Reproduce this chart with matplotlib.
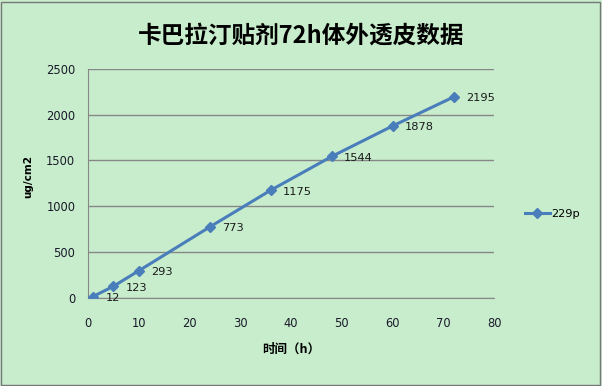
import matplotlib
matplotlib.use("Agg")
import matplotlib.pyplot as plt
from matplotlib.patches import Rectangle

plt.rcParams['font.family'] = ['DejaVu Sans', 'Noto Sans CJK SC']

# 时间 (h) und kumulierte Permeation (ug/cm2)
zeit = [1, 5, 10, 24, 36, 48, 60, 72]
werte = [12, 123, 293, 773, 1175, 1544, 1878, 2195]
serie = "229p"
titel = "卡巴拉汀贴剂72h体外透皮数据"

bg = "#C8EDCC"
blau = "#4A7EBB"
grau = "#878787"

fig = plt.figure(figsize=(6.02, 3.86), dpi=100)
fig.patch.set_facecolor(bg)
ax = fig.add_axes([0.146, 0.229, 0.675, 0.592])
ax.set_facecolor(bg)

ax.plot(zeit, werte, color=blau, lw=2.2, marker="D", ms=5.5, label=serie, zorder=3)
for x, y in zip(zeit, werte):
    ax.annotate(str(y), (x, y), xytext=(9, -1), textcoords="offset points",
                ha="left", va="center", fontsize=8.2, color="#1a1a1a")

ax.set_xlim(0, 80)
ax.set_ylim(0, 2500)
ax.set_xticks(range(0, 81, 10))
ax.set_yticks(range(0, 2501, 500))
ax.yaxis.grid(True, color=grau, lw=1)
ax.set_axisbelow(True)
for s in ["top", "right"]:
    ax.spines[s].set_visible(False)
for s in ["left", "bottom"]:
    ax.spines[s].set_color(grau)
ax.tick_params(axis="x", length=0, labelsize=8.3, pad=14, colors="#1a1a2a")
ax.tick_params(axis="y", length=0, labelsize=8.3, pad=9, colors="#1a1a2a")

ax.set_xlabel("时间（h）", fontsize=9, fontweight="bold",
              family=['Noto Sans CJK SC', 'DejaVu Sans'], labelpad=9)
ax.set_ylabel("ug/cm2", fontsize=7.5, fontweight="bold", labelpad=16)
ax.yaxis.set_label_coords(-0.135, 0.53)
fig.text(0.5, 0.908, titel, ha="center", va="center", fontsize=17, fontweight="bold",
         family=['Noto Sans CJK SC', 'DejaVu Sans'])

ax.legend(loc="center left", bbox_to_anchor=(1.05, 0.366), frameon=False,
          fontsize=8.2, handlelength=2.2, handletextpad=0.1, markerscale=0.9)

fig.add_artist(Rectangle((0.002, 0.003), 0.995, 0.993, transform=fig.transFigure,
                         fill=False, edgecolor="#777777", lw=1))

plt.savefig("out.png", dpi=100, facecolor=bg)
